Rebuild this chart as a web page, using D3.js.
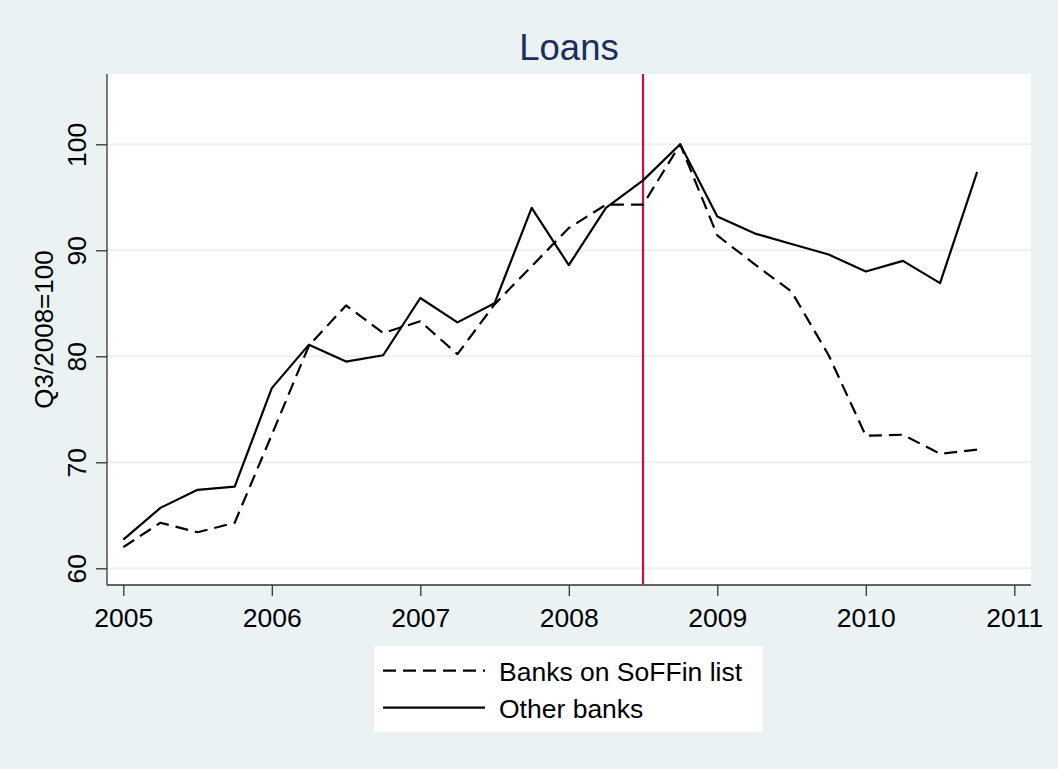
<!DOCTYPE html>
<html>
<head>
<meta charset="utf-8">
<script src="https://cdn.jsdelivr.net/npm/d3@7/dist/d3.min.js"></script>
<style>
  html, body { margin: 0; padding: 0; background: #eaf2f3; }
  svg { display: block; font-family: "Liberation Sans", Arial, Helvetica, sans-serif; }
</style>
</head>
<body>
<svg id="chart" width="1058" height="769"></svg>
<script>
// ---- data ----
const quarters = [2005.00, 2005.25, 2005.50, 2005.75,
                  2006.00, 2006.25, 2006.50, 2006.75,
                  2007.00, 2007.25, 2007.50, 2007.75,
                  2008.00, 2008.25, 2008.50, 2008.75,
                  2009.00, 2009.25, 2009.50, 2009.75,
                  2010.00, 2010.25, 2010.50, 2010.75];
const soffinBanks = [62.0, 64.3, 63.4, 64.3,
                     72.6, 81.0, 84.8, 82.2,
                     83.3, 80.2, 84.9, 88.5,
                     92.1, 94.3, 94.3, 100.0,
                     91.4, 88.7, 86.1, 80.1,
                     72.5, 72.6, 70.8, 71.2];
const otherBanks = [62.7, 65.7, 67.4, 67.7,
                    77.0, 81.1, 79.5, 80.1,
                    85.5, 83.2, 85.0, 94.0,
                    88.6, 94.0, 96.6, 100.0,
                    93.2, 91.6, 90.6, 89.6,
                    88.0, 89.0, 86.9, 97.4];
const yTicks = [60, 70, 80, 90, 100];
const xTicks = [2005, 2006, 2007, 2008, 2009, 2010, 2011];
const markerYear = 2008.5;
const seriesNames = ["Banks on SoFFin list", "Other banks"];
const titleText = "Loans";
const yLabelText = "Q3/2008=100";

// ---- layout ----
const svg = d3.select("#chart");
const W = 1058, H = 769;
const plot = { left: 107, right: 1031, top: 74, bottom: 585 };

const x = d3.scaleLinear().domain([2005, 2011]).range([123.3, 1014.3]);
const y = d3.scaleLinear().domain([60, 100]).range([568.3, 144.3]);

svg.append("rect").attr("width", W).attr("height", H).attr("fill", "#eaf2f3");
svg.append("rect")
  .attr("x", plot.left).attr("y", plot.top)
  .attr("width", plot.right - plot.left).attr("height", plot.bottom - plot.top)
  .attr("fill", "#ffffff");

// gridlines
svg.append("g").selectAll("line").data(yTicks).join("line")
  .attr("x1", plot.left).attr("x2", plot.right)
  .attr("y1", d => y(d)).attr("y2", d => y(d))
  .attr("stroke", "#eaf2f3").attr("stroke-width", 2);

// y axis
const yAxis = d3.axisLeft(y).tickValues(yTicks).tickSize(11).tickPadding(8).tickSizeOuter(0);
const gy = svg.append("g").attr("transform", `translate(${plot.left},0)`).call(yAxis);
gy.select(".domain").remove();
gy.selectAll(".tick line").attr("stroke", "#333").attr("stroke-width", 1.3);
gy.selectAll(".tick text")
  .attr("font-size", 26.5).attr("fill", "#000")
  .attr("text-anchor", "middle")
  .attr("transform", d => `translate(${-11 - 10},${y(d)}) rotate(-90) translate(${11 + 10},${-y(d)})`)
  .each(function(d) {
    d3.select(this).attr("x", 0).attr("dy", null).attr("y", 0)
      .attr("transform", `translate(${-21},0) rotate(-90)`);
  });
svg.append("line")
  .attr("x1", plot.left).attr("x2", plot.left)
  .attr("y1", plot.top).attr("y2", plot.bottom)
  .attr("stroke", "#333").attr("stroke-width", 1.3);

// x axis
const xAxis = d3.axisBottom(x).tickValues(xTicks).tickFormat(d3.format("d")).tickSize(11).tickPadding(9).tickSizeOuter(0);
const gx = svg.append("g").attr("transform", `translate(0,${plot.bottom})`).call(xAxis);
gx.select(".domain").remove();
gx.selectAll(".tick line").attr("stroke", "#333").attr("stroke-width", 1.3);
gx.selectAll(".tick text").attr("font-size", 26.5).attr("fill", "#000").attr("dy", null).attr("y", 41.5);
svg.append("line")
  .attr("x1", plot.left).attr("x2", plot.right)
  .attr("y1", plot.bottom).attr("y2", plot.bottom)
  .attr("stroke", "#333").attr("stroke-width", 1.3);

// red vertical marker
svg.append("line")
  .attr("x1", x(markerYear)).attr("x2", x(markerYear))
  .attr("y1", plot.top).attr("y2", plot.bottom)
  .attr("stroke", "#c8103c").attr("stroke-width", 2.2);

// lines
const line = d3.line().x(d => x(d[0])).y(d => y(d[1]));
svg.append("path")
  .datum(quarters.map((q, i) => [q, soffinBanks[i]]))
  .attr("d", line).attr("fill", "none")
  .attr("stroke", "#000").attr("stroke-width", 2.2)
  .attr("stroke-dasharray", "13,7").attr("stroke-linejoin", "round");
svg.append("path")
  .datum(quarters.map((q, i) => [q, otherBanks[i]]))
  .attr("d", line).attr("fill", "none")
  .attr("stroke", "#000").attr("stroke-width", 2.2).attr("stroke-linejoin", "round");

// title
svg.append("text")
  .attr("x", (plot.left + plot.right) / 2).attr("y", 60)
  .attr("text-anchor", "middle").attr("font-size", 36.5)
  .attr("fill", "#1c2e5e").text(titleText);

// y label
svg.append("text")
  .attr("transform", `translate(53,${(plot.top + plot.bottom) / 2}) rotate(-90)`)
  .attr("text-anchor", "middle").attr("font-size", 26)
  .attr("fill", "#000").text(yLabelText);

// legend
const lg = svg.append("g");
lg.append("rect").attr("x", 374).attr("y", 646).attr("width", 389).attr("height", 86).attr("fill", "#fff");
const rows = [
  { name: seriesNames[0], dash: "13,7", ly: 670.7, ty: 681 },
  { name: seriesNames[1], dash: null, ly: 707.7, ty: 718 }
];
rows.forEach(r => {
  lg.append("line").attr("x1", 383).attr("x2", 485).attr("y1", r.ly).attr("y2", r.ly)
    .attr("stroke", "#000").attr("stroke-width", 2.2)
    .attr("stroke-dasharray", r.dash);
  lg.append("text").attr("x", 499).attr("y", r.ty)
    .attr("font-size", 26.5).attr("fill", "#000").text(r.name);
});
</script>
</body>
</html>
